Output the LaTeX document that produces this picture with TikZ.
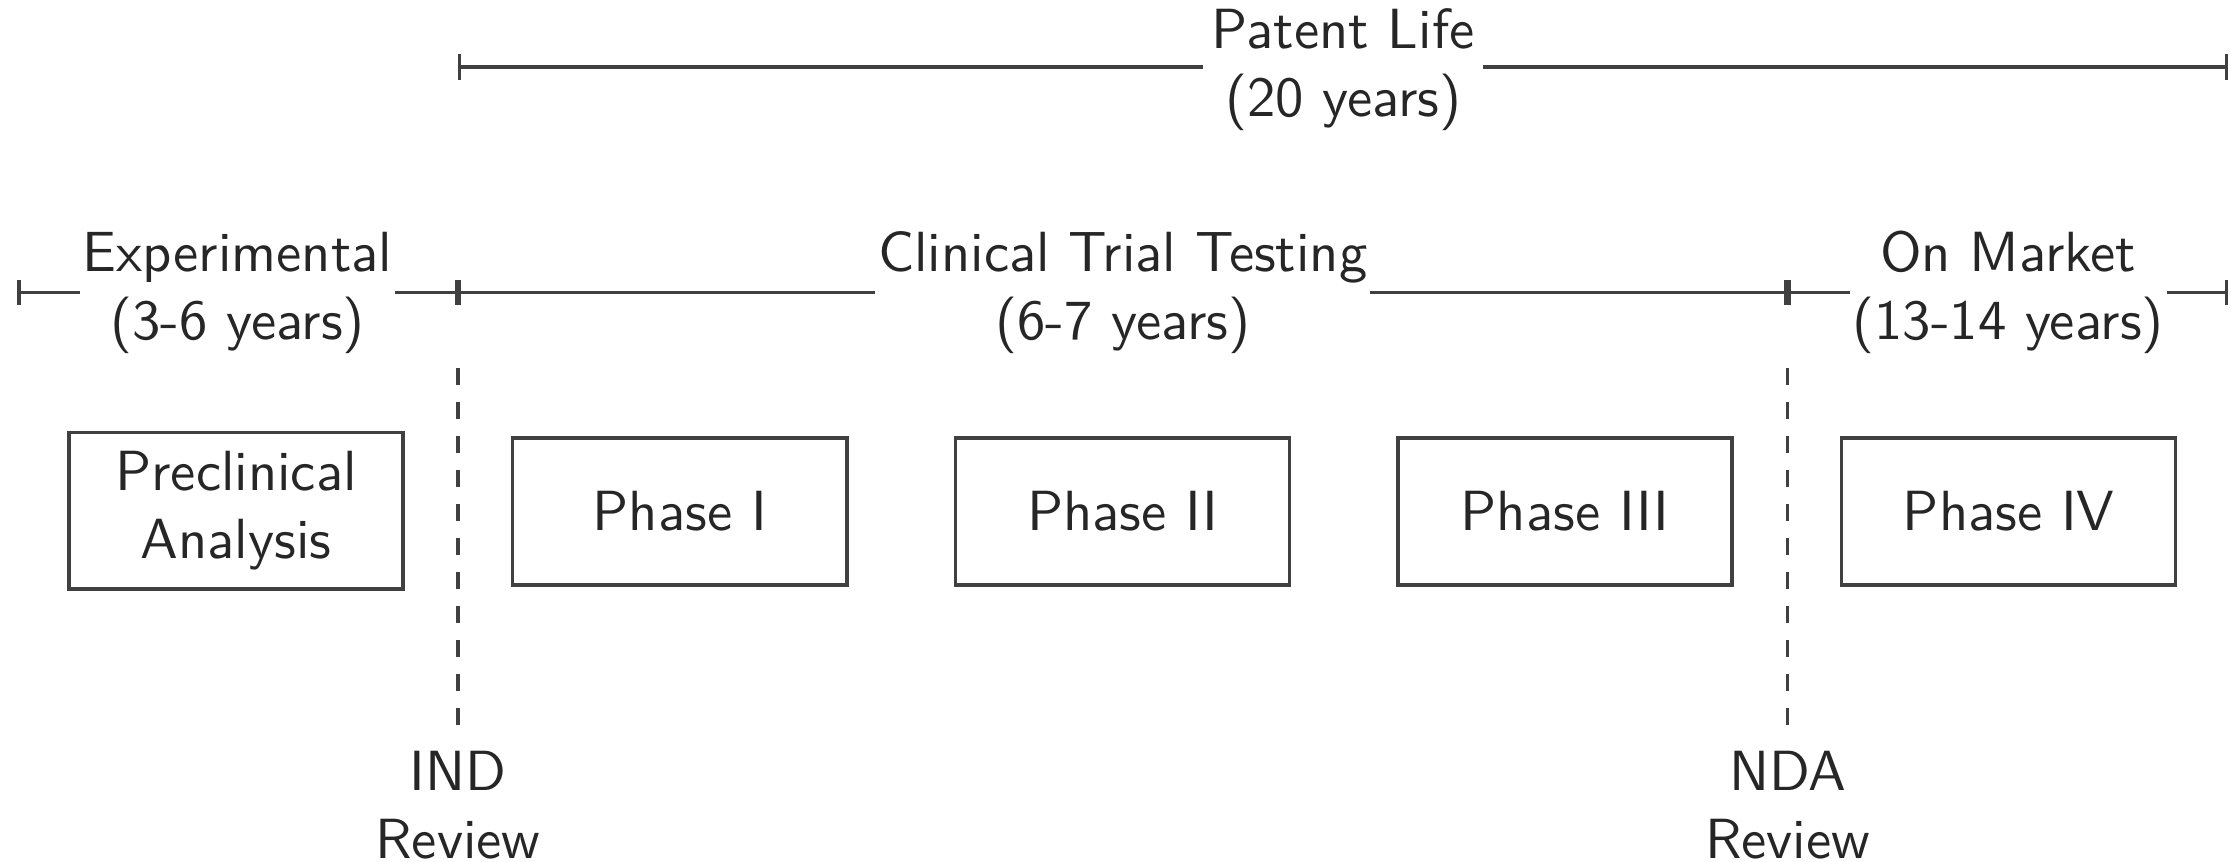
\documentclass[tikz,border=0pt]{standalone}
\usetikzlibrary{arrows.meta}
\begin{document}
\begin{tikzpicture}[x=0.252pt, y=-0.252pt, font=\sffamily,
  line/.style={line width=0.6pt, draw=black!75},
  span/.style={line, {Bar[width=4.5pt]}-{Bar[width=4.5pt]}},
  lbl/.style={fill=white, align=center, inner sep=0.5pt, text=black!85},
  phasebox/.style={draw=black!75, line width=0.6pt, minimum width=59pt, minimum height=26pt, align=center, text=black!85},
  review/.style={align=center, text=black!85, inner sep=0pt},
  guide/.style={line, dashed}]
\useasboundingbox (0,0) rectangle (1568,604);
% timeline coordinates
\coordinate (t0) at (12,205);
\coordinate (tind) at (321,205);
\coordinate (tnda) at (1253,205);
\coordinate (tend) at (1562,205);
\coordinate (p0) at (321,47);
\coordinate (p1) at (1562,47);
\coordinate (gind) at (321,258);
\coordinate (gnda) at (1253,258);
\coordinate (gind2) at (321,512);
\coordinate (gnda2) at (1253,512);
% spans
\draw[span] (p0) -- (p1);
\draw[span] (t0) -- (tind);
\draw[span] (tind) -- (tnda);
\draw[span] (tnda) -- (tend);
% span labels
\node[lbl, inner sep=1.5pt] (patent) at (941.5,49) {Patent Life\\(20 years)};
\node[lbl] (exp) at (166.5,205) {Experimental\\(3-6 years)};
\node[lbl] (clin) at (787,205) {Clinical Trial Testing\\(6-7 years)};
\node[lbl] (mkt) at (1407.5,205) {On Market\\(13-14 years)};
% boxes
\node[phasebox] (pre) at (165.5,358) {Preclinical\\Analysis};
\node[phasebox] (ph1) at (476.5,358.5) {Phase I};
\node[phasebox] (ph2) at (787,358.5) {Phase II};
\node[phasebox] (ph3) at (1097,358.5) {Phase III};
\node[phasebox] (ph4) at (1408,358.5) {Phase IV};
% reviews
\draw[guide] (gind) -- (gind2);
\draw[guide] (gnda) -- (gnda2);
\node[review, anchor=north] (ind) at (321,526) {IND\\Review};
\node[review, anchor=north] (nda) at (1253,526) {NDA\\Review};
\end{tikzpicture}
\end{document}
